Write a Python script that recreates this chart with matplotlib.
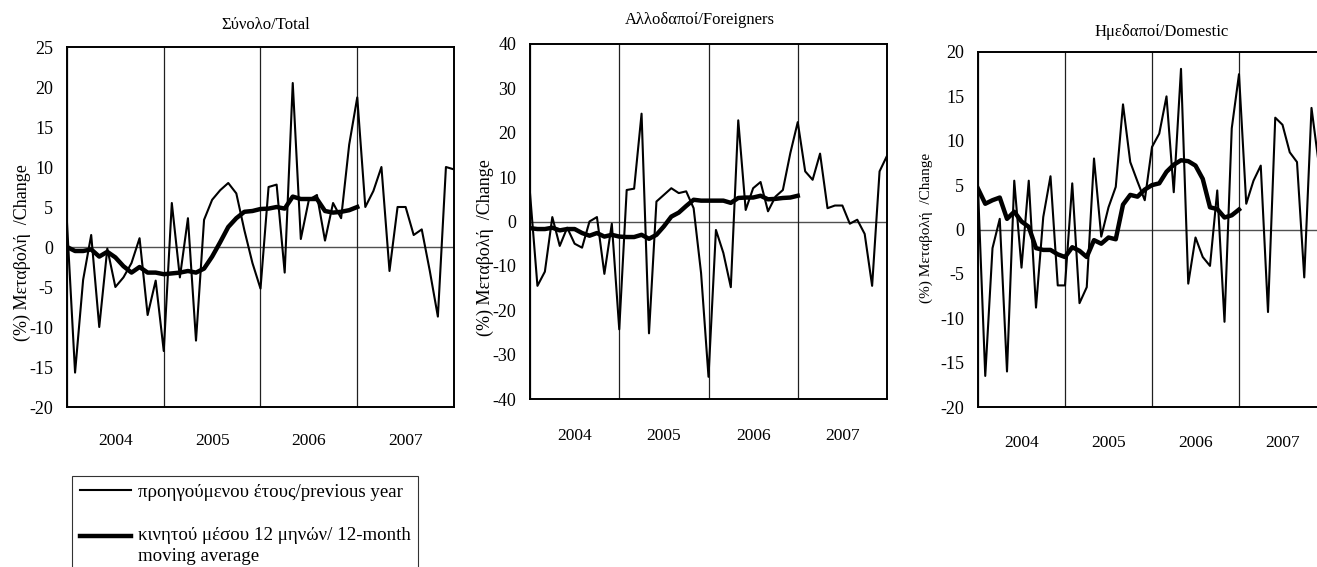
import numpy as np
import matplotlib
matplotlib.use("Agg")
import matplotlib.pyplot as plt
from matplotlib.lines import Line2D
from matplotlib.legend_handler import HandlerLine2D

plt.rcParams['font.family'] = ['Liberation Serif', 'DejaVu Serif']
plt.rcParams['axes.unicode_minus'] = False

# ---------------- data ----------------
years = ["2004", "2005", "2006", "2007"]

total_yoy = [3.0, -15.7, -4.1, 1.5, -10.0, -0.2, -5.0, -3.8, -2.0, 1.1, -8.5, -4.2,
             -13.0, 5.5, -3.8, 3.6, -11.7, 3.4, 5.9, 7.1, 8.0, 6.7, 2.1, -2.0,
             -5.2, 7.5, 7.8, -3.2, 20.5, 1.0, 5.9, 6.5, 0.8, 5.5, 3.6, 12.8,
             18.7, 5.0, 7.0, 10.0, -3.0, 5.0, 5.0, 1.5, 2.2, -3.0, -8.7, 10.0, 9.7]
total_ma = [0.0, -0.5, -0.5, -0.3, -1.2, -0.6, -1.3, -2.4, -3.2, -2.5, -3.2, -3.2,
            -3.4, -3.3, -3.2, -3.0, -3.2, -2.7, -1.2, 0.6, 2.5, 3.6, 4.4, 4.5,
            4.75, 4.8, 5.0, 4.8, 6.3, 6.0, 6.0, 6.0, 4.5, 4.3, 4.4, 4.6, 5.0]

foreign_yoy = [6.4, -14.5, -11.3, 1.0, -5.5, -1.4, -5.0, -5.9, 0.0, 1.0, -11.8, -0.5,
               -24.3, 7.1, 7.4, 24.3, -25.2, 4.5, 6.0, 7.5, 6.4, 6.8, 3.0, -11.6,
               -35.0, -1.9, -7.1, -14.8, 22.8, 2.6, 7.5, 8.9, 2.3, 5.6, 7.1, 15.4,
               22.4, 11.3, 9.4, 15.3, 3.0, 3.6, 3.6, -0.5, 0.4, -2.8, -14.5, 11.3, 14.8]
foreign_ma = [-1.5, -1.7, -1.7, -1.4, -2.0, -1.7, -1.7, -2.6, -3.2, -2.6, -3.4, -3.0,
              -3.4, -3.5, -3.5, -3.0, -3.9, -3.0, -1.1, 1.1, 2.0, 3.5, 4.9, 4.7,
              4.7, 4.7, 4.7, 4.2, 5.3, 5.4, 5.4, 5.8, 5.0, 5.1, 5.3, 5.4, 5.8]

domestic_yoy = [4.6, -16.5, -2.1, 1.2, -16.0, 5.5, -4.3, 5.5, -8.8, 1.4, 6.0, -6.3,
                -6.3, 5.2, -8.3, -6.5, 8.0, -0.8, 2.5, 4.8, 14.1, 7.6, 5.4, 3.3,
                9.3, 10.8, 15.0, 4.2, 18.1, -6.1, -0.9, -3.1, -4.1, 4.4, -10.4, 11.4,
                17.5, 2.9, 5.5, 7.2, -9.3, 12.6, 11.8, 8.7, 7.6, -5.4, 13.7, 7.4]
domestic_ma = [4.6, 2.9, 3.3, 3.6, 1.2, 2.0, 0.9, 0.3, -2.1, -2.3, -2.3, -2.8,
               -3.1, -2.0, -2.4, -3.1, -1.2, -1.6, -0.9, -1.1, 2.8, 3.9, 3.7, 4.5,
               5.0, 5.2, 6.5, 7.3, 7.8, 7.7, 7.2, 5.7, 2.5, 2.3, 1.35, 1.6, 2.25]

titles = ["Σύνολο/Total", "Αλλοδαποί/Foreigners", "Ημεδαποί/Domestic"]
ylabel = "(%) Μεταβολή  /Change"
legend_labels = ["προηγούμενου έτους/previous year",
                 "κινητού μέσου 12 μηνών/ 12-month\nmoving average"]

# ---------------- figure ----------------
W, H = 1317, 567
fig = plt.figure(figsize=(W / 100, H / 100), dpi=100)

def px_axes(left, top, right, bottom):
    return fig.add_axes([left / W, 1 - bottom / H, (right - left) / W, (bottom - top) / H])

panels = [
    dict(box=(67, 47, 454, 407), yoy=total_yoy, ma=total_ma, ylim=(-20, 25), step=5,
         title=titles[0], tpos=(0.514, 1.062), lpos=(-0.092, 0.43), lsize=13, xpad=19),
    dict(box=(530, 44, 887, 399), yoy=foreign_yoy, ma=foreign_ma, ylim=(-40, 40), step=10,
         title=titles[1], tpos=(0.476, 1.068), lpos=(-0.102, 0.426), lsize=13, xpad=21),
    dict(box=(978, 52, 1326, 407), yoy=domestic_yoy, ma=domestic_ma, ylim=(-20, 20), step=5,
         title=titles[2], tpos=(0.528, 1.055), lpos=(-0.129, 0.504), lsize=11, xpad=20),
]

for p in panels:
    ax = px_axes(*p['box'])
    x_yoy = np.arange(len(p['yoy']))
    x_ma = np.arange(len(p['ma']))
    ax.axhline(0, color='#505050', lw=1.0, zorder=1)
    ax.plot(x_yoy, p['yoy'], color='black', lw=1.5, zorder=3)
    ax.plot(x_ma, p['ma'], color='black', lw=3.2, zorder=4)
    ax.set_xlim(0, 48)
    ax.set_ylim(*p['ylim'])
    ax.set_yticks(np.arange(p['ylim'][0], p['ylim'][1] + 1, p['step']))
    ax.set_xticks([0, 12, 24, 36, 48])
    ax.set_xticklabels([])
    ax.set_xticks([6, 18, 30, 42], minor=True)
    ax.set_xticklabels(years, minor=True, fontsize=12.5)
    ax.tick_params(axis='x', which='both', length=0, pad=p['xpad'])
    ax.tick_params(axis='y', length=0, pad=10, labelsize=13)
    ax.grid(axis='x', which='major', color='#202020', lw=0.9)
    for s in ax.spines.values():
        s.set_linewidth(1.4)
        s.set_color('black')
    ax.text(p['tpos'][0], p['tpos'][1], p['title'], transform=ax.transAxes,
            ha='center', va='center', fontsize=12)
    ax.set_ylabel(ylabel, fontsize=p['lsize'])
    ax.yaxis.set_label_coords(*p['lpos'])


class FirstLineHandler(HandlerLine2D):
    """Line handle aligned with the first line of a two-line label."""
    def __init__(self, shift=0.0, **kw):
        super().__init__(**kw)
        self.shift = shift

    def create_artists(self, legend, orig_handle, xdescent, ydescent, width, height,
                       fontsize, trans):
        arts = super().create_artists(legend, orig_handle, xdescent, ydescent, width,
                                      height, fontsize, trans)
        for a in arts:
            a.set_ydata(np.asarray(a.get_ydata(), dtype=float) + self.shift)
        return arts


h_thin = Line2D([], [], color='black', lw=1.5)
h_thick = Line2D([], [], color='black', lw=3.2)
leg = fig.legend([h_thin, h_thick], legend_labels, loc='upper left',
                 bbox_to_anchor=(72 / W, 1 - 476 / H), fontsize=13.6, frameon=True,
                 fancybox=False, edgecolor='black', handlelength=2.7, handletextpad=0.4,
                 labelspacing=1.4, borderpad=0.4, borderaxespad=0,
                 handler_map={h_thick: FirstLineHandler(shift=7.5)})
leg.get_frame().set_linewidth(0.8)
for t in leg.get_texts():
    t.set_linespacing(1.3)

fig.savefig("out.png", dpi=100)
